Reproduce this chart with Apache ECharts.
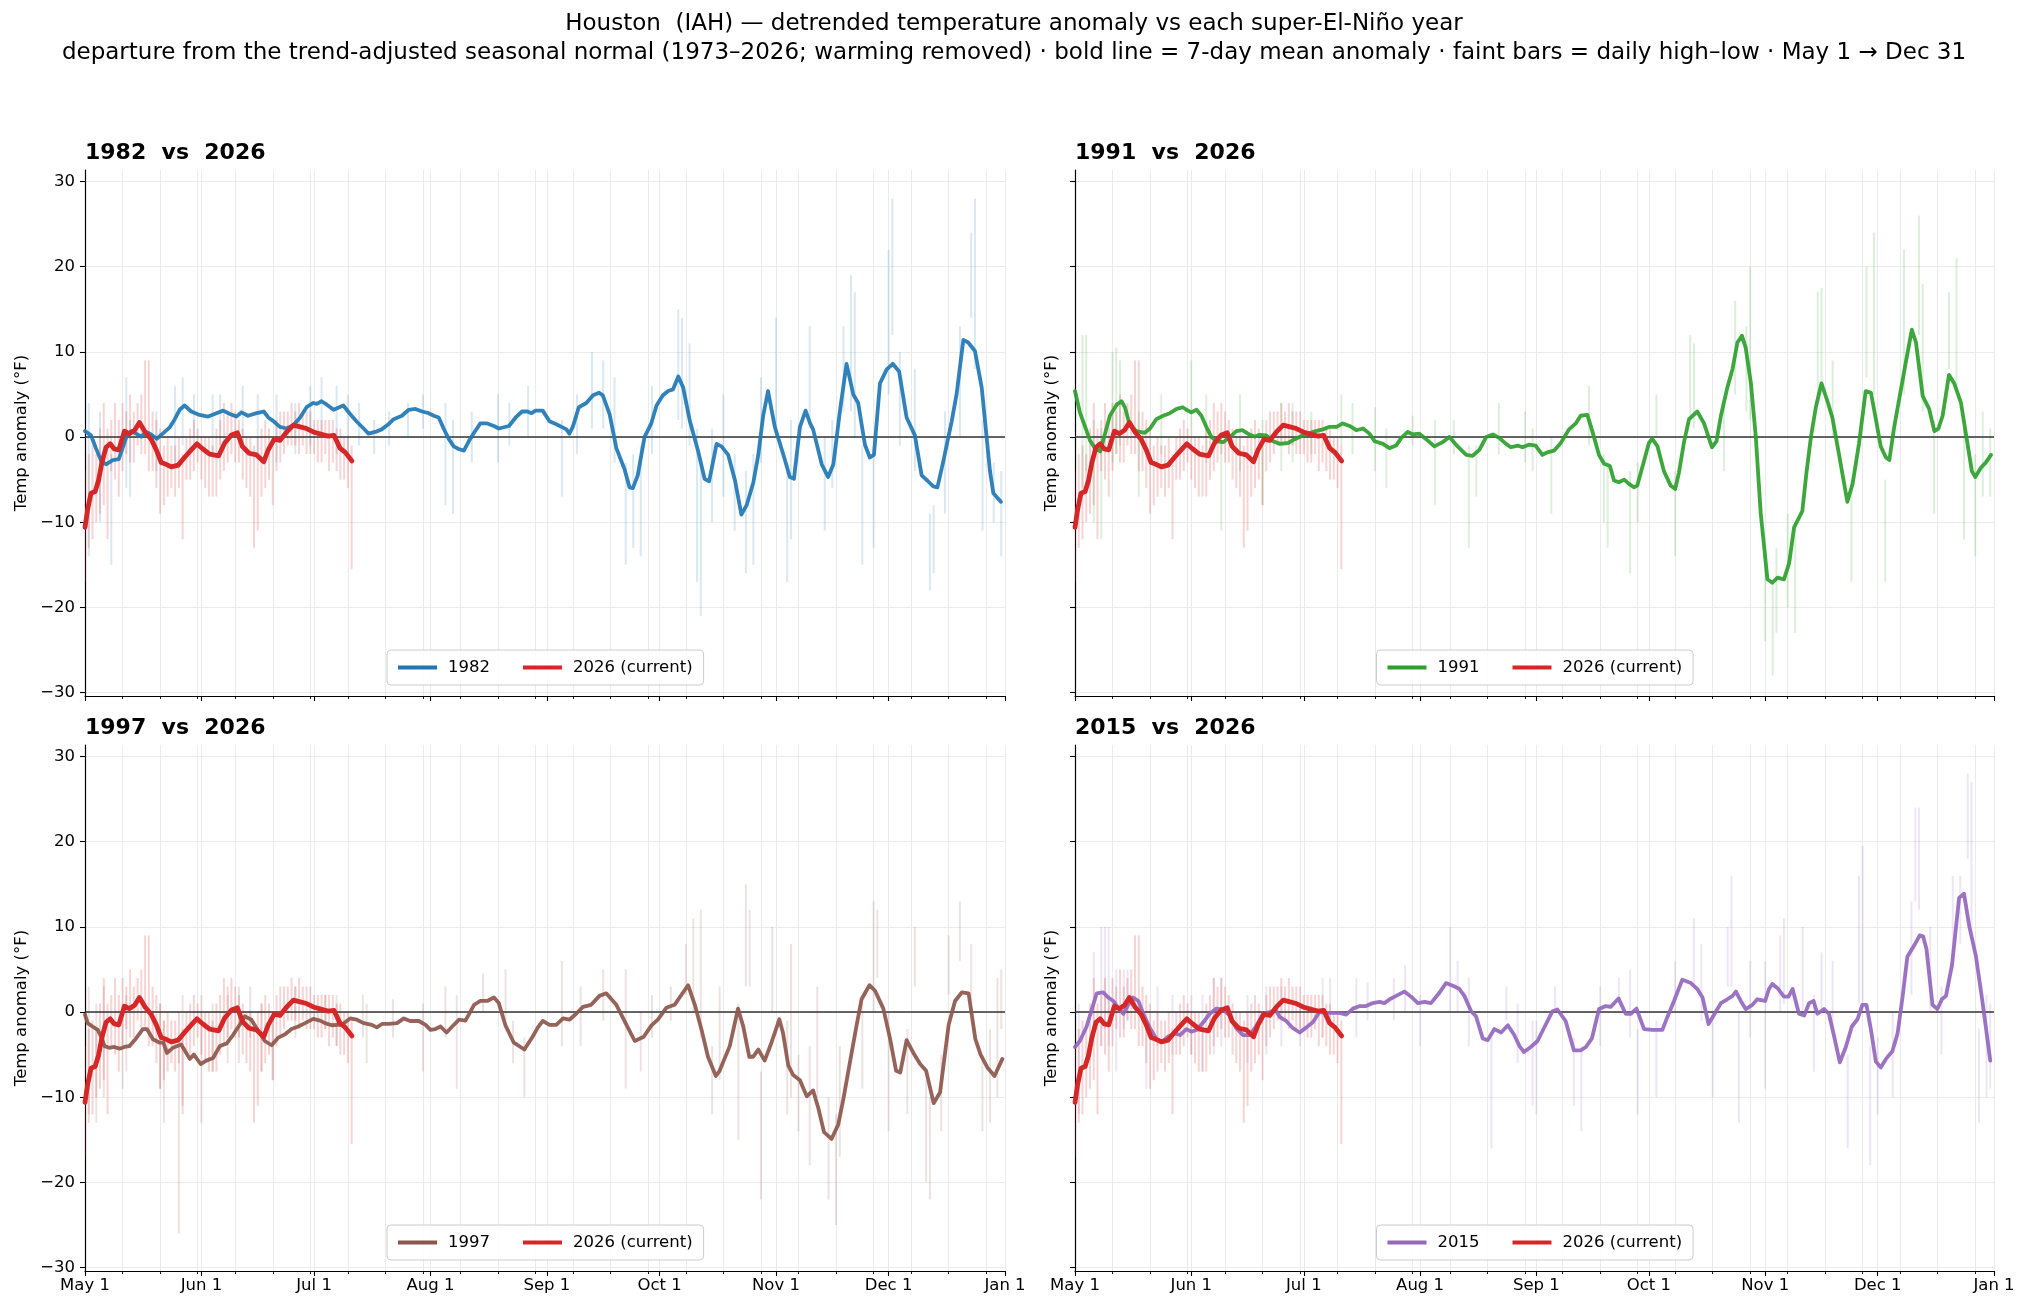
<!DOCTYPE html>
<html>
<head>
<meta charset="utf-8">
<script src="https://cdn.jsdelivr.net/npm/echarts@6/dist/echarts.min.js"></script>
<style>
  html, body { margin: 0; padding: 0; background: #fff; }
  #chart { width: 2028px; height: 1312px; }
</style>
</head>
<body>
<div id="chart"></div>
<script>
// x = days since May 1 (Jan 1 = 245)
const monthDays = [0, 31, 61, 92, 123, 153, 184, 214, 245];
const monthLabels = ['May 1', 'Jun 1', 'Jul 1', 'Aug 1', 'Sep 1', 'Oct 1', 'Nov 1', 'Dec 1', 'Jan 1'];
const minorDays = [10, 20, 30, 40, 50, 60, 70, 80, 90, 100, 110, 120, 130, 140, 150, 160, 170, 180, 190, 200, 210, 220, 230, 240];
const yTicks = [-30, -20, -10, 0, 10, 20, 30];
const zeroLine = [[0, 0], [245, 0]];

// 7-day mean anomaly (°F)
const line2026 = [[0,-10.6],[0.7,-8.5],[1.6,-6.6],[2.7,-6.4],[3.6,-5.1],[4.5,-3.0],[5.6,-1.2],[6.7,-0.8],[7.8,-1.4],[9,-1.5],[10.5,0.7],[11.8,0.4],[13.2,0.8],[14.5,1.7],[16,0.6],[17.6,-0.25],[19,-1.5],[20.3,-3.0],[21.6,-3.2],[23,-3.5],[24.8,-3.3],[26.5,-2.4],[28.3,-1.5],[29.8,-0.8],[31.4,-1.4],[33.2,-2.0],[35.6,-2.2],[37.2,-0.7],[39,0.25],[40.6,0.5],[41.9,-1.1],[43.7,-1.9],[45.7,-2.1],[47.6,-2.9],[48.8,-1.5],[50.4,-0.25],[51.9,-0.4],[53.7,0.6],[55.5,1.4],[57.3,1.2],[59,1.0],[60.8,0.6],[63.5,0.25],[64.8,0.1],[66.3,0.2],[67.9,-1.3],[69.3,-1.8],[71.1,-2.8]];

const line1982 = [[0,0.7],[1.6,0.2],[2.9,-1.3],[4.3,-2.8],[5.6,-3.2],[7.4,-2.7],[9,-2.6],[10,-1.3],[11,0],[12.3,0.7],[13.6,0.4],[15,0.05],[16.3,0.6],[17.6,0.3],[19.1,-0.2],[20.7,0.4],[22.5,1.1],[23.9,2.1],[25.2,3.2],[26.5,3.7],[28.3,3.0],[30.5,2.6],[32.8,2.4],[34.5,2.7],[36.8,3.1],[38.6,2.7],[40.3,2.4],[41.7,2.9],[43.4,2.5],[45.7,2.8],[47.6,3.0],[48.8,2.3],[50.1,1.9],[51.9,1.2],[53.7,1.0],[55.5,1.4],[57.3,2.3],[59,3.5],[60.8,4.0],[61.7,3.9],[63,4.2],[64.4,3.8],[66.2,3.2],[68.8,3.7],[70.6,2.7],[72.4,1.8],[74.2,1.0],[75.5,0.4],[77.3,0.6],[79,0.9],[80.8,1.5],[82.2,2.1],[84.4,2.5],[86.2,3.2],[88,3.3],[89.8,3.0],[91.5,2.8],[92.9,2.5],[94.2,2.3],[95.5,1.0],[96.9,-0.25],[98.2,-1.1],[99.5,-1.4],[100.9,-1.6],[102.2,-0.5],[103.6,0.5],[105.3,1.6],[107.1,1.6],[108.9,1.3],[110.2,1.0],[112.9,1.3],[114.7,2.3],[116.4,3.0],[117.8,3.0],[118.9,2.8],[120,3.1],[121.9,3.1],[123.7,1.85],[125.5,1.5],[127.3,1.1],[128.2,0.9],[129,0.4],[129.9,1.2],[131.5,3.5],[133.5,4.0],[135.3,4.9],[136.9,5.2],[137.9,4.9],[139.7,2.7],[141.5,-1.3],[143.7,-3.8],[145,-5.9],[145.9,-6.0],[147.2,-4.5],[149,0],[150.8,1.6],[152.2,3.7],[153.9,4.9],[155.3,5.4],[156.6,5.6],[158,7.1],[159.3,5.8],[161.1,1.85],[163.3,-1.7],[165,-4.9],[166.2,-5.2],[168.2,-0.8],[169.5,-1.1],[171.3,-2.1],[173.1,-5.1],[174.8,-9.1],[176.2,-8.0],[178,-5.3],[179.3,-2.1],[180.6,2.5],[181.9,5.4],[183.7,1.2],[186,-2.1],[187.7,-4.7],[188.8,-4.9],[190.4,1.2],[191.9,3.1],[193.1,1.6],[193.9,0.9],[196.2,-3.2],[197.9,-4.7],[199.3,-3.2],[201,2.9],[202.8,8.6],[204.6,5.0],[205.9,4.0],[207.7,-0.9],[209,-2.4],[210.1,-2.1],[211.7,6.3],[213.5,7.95],[215.1,8.6],[216.8,7.7],[218.8,2.3],[221,0.2],[222.8,-4.5],[224.3,-5.1],[225.9,-5.8],[227,-5.9],[228.6,-2.8],[230.8,1.85],[232.1,5.0],[233.9,11.4],[235.2,11.1],[237,10.1],[238.8,5.8],[240.1,0],[241,-4.0],[241.9,-6.6],[243.9,-7.6]];

const line1991 = [[0,5.4],[1.3,2.9],[2.7,1.2],[4,-0.4],[5.3,-1.3],[6.7,-1.7],[8,0.4],[9.3,2.5],[11.1,3.8],[12.4,4.2],[13.3,3.5],[14.6,1.4],[16.4,0.7],[18.6,0.5],[20,1.0],[21.7,2.1],[23.5,2.5],[25.3,2.8],[27.1,3.3],[28.7,3.5],[29.7,3.2],[31,2.9],[32.4,3.2],[33.7,2.5],[35,1.2],[36.4,0],[37.7,-0.5],[39.5,-0.6],[41.3,0],[43,0.7],[44.6,0.8],[46.1,0.4],[47.9,0.05],[49.2,0.25],[51,0.2],[52.8,-0.5],[54.6,-0.8],[56.8,-0.7],[58.6,-0.25],[60.8,0.2],[63.4,0.6],[66.1,0.9],[67.9,1.2],[69.7,1.2],[71.4,1.6],[73.2,1.3],[75,0.8],[76.8,1.0],[78.5,0.4],[79.9,-0.5],[82.1,-0.8],[83.8,-1.3],[85.6,-1.0],[87,-0.1],[88.7,0.6],[90.1,0.3],[91.8,0.4],[93.6,-0.25],[95.8,-1.1],[98,-0.6],[99.8,0],[102,-1.1],[104.3,-2.1],[106,-2.2],[107.8,-1.5],[109.6,0],[111.4,0.3],[113.1,-0.1],[114.9,-0.8],[116.2,-1.2],[118,-1.0],[119.3,-1.2],[121,-0.9],[122.8,-1.0],[124.6,-2.1],[125.9,-1.8],[127.7,-1.6],[129.5,-0.7],[131.7,0.9],[133.5,1.6],[134.8,2.5],[136.6,2.6],[138.1,0.4],[139.7,-2.1],[141,-3.1],[142.6,-3.4],[143.7,-5.1],[145,-5.3],[146.4,-5.0],[147.7,-5.5],[149,-5.9],[149.9,-5.7],[151.7,-2.8],[153,-0.7],[153.9,-0.2],[155.3,-1.1],[157,-4.0],[158.8,-5.7],[160,-6.1],[161,-4.2],[162.4,-0.5],[163.7,2.1],[165.9,3.0],[167.7,1.6],[169.8,-1.2],[171,-0.5],[172.2,2.5],[173.9,5.8],[175.3,8.0],[176.6,11.1],[177.8,11.9],[178.8,10.5],[180.2,6.3],[181.5,0],[182.8,-8.9],[184.6,-16.7],[185.9,-17.1],[187.3,-16.5],[189,-16.7],[190.4,-14.8],[191.7,-10.6],[193.9,-8.7],[195,-4.2],[196.2,0],[197.5,3.5],[199,6.3],[200.6,4.2],[201.9,2.3],[203.7,-2.1],[205.9,-7.6],[207.3,-5.5],[209,-0.8],[210.8,5.4],[212.2,5.2],[213.5,2.1],[214.8,-1.1],[216.2,-2.4],[217.1,-2.7],[218.4,1.2],[219.7,4.4],[221.5,8.8],[223.1,12.6],[224.2,11.1],[226,4.8],[227.7,3.3],[229.1,0.7],[230.2,1.0],[231.3,2.5],[233,7.3],[234.4,6.3],[236.2,4.0],[237.5,0.4],[239.1,-4.0],[240,-4.7],[241.5,-3.6],[242.8,-3.0],[244.2,-2.1]];

const line1997 = [[0,-0.3],[0.7,-1.3],[2,-1.7],[3.4,-2.1],[4.3,-2.9],[5.2,-4.0],[6.5,-4.2],[7.8,-4.1],[9.2,-4.3],[10.5,-4.1],[11.8,-4.0],[13.6,-3.1],[15.4,-2.0],[16.5,-2.0],[18.1,-3.2],[19.9,-3.6],[20.9,-3.6],[21.8,-4.8],[23.4,-4.2],[25.6,-3.8],[27.9,-5.5],[29,-5.0],[30.8,-6.1],[32.3,-5.7],[34.1,-5.4],[35.9,-4.0],[37.7,-3.7],[39.4,-2.7],[41.2,-1.5],[42.6,-0.5],[44.3,-0.9],[46.1,-2.2],[47.9,-3.4],[49.7,-3.9],[51.5,-3.0],[53.3,-2.6],[55,-2.0],[56.8,-1.7],[58.6,-1.3],[60.8,-0.8],[62.6,-1.0],[63.9,-1.3],[65.7,-1.55],[67.1,-1.5],[68.4,-1.5],[70.6,-0.75],[72.4,-0.9],[74.2,-1.3],[76.4,-1.5],[77.7,-1.8],[79.1,-1.4],[80.9,-1.4],[83.1,-1.3],[84.9,-0.75],[86.6,-1.05],[88.9,-1.05],[90.7,-1.5],[92,-2.1],[93.3,-2.0],[94.7,-1.7],[96.3,-2.4],[97.8,-1.7],[99.6,-0.9],[101.3,-1.0],[102.2,-0.3],[103.6,0.85],[105.3,1.3],[107.1,1.3],[108.9,1.7],[110.2,1.05],[112,-1.6],[114.2,-3.6],[117,-4.4],[119.2,-2.9],[120.6,-1.8],[121.9,-1.05],[123.7,-1.5],[125.5,-1.5],[127.3,-0.75],[129,-0.9],[130.8,-0.2],[132.6,0.6],[134.8,0.85],[137,1.9],[138.8,2.2],[141.5,0.85],[144.2,-1.5],[146.4,-3.4],[148.8,-2.9],[150.8,-1.6],[152.6,-0.85],[154.8,0.5],[157,0.85],[158.8,2.0],[160.6,3.15],[162.4,0.85],[164.2,-2.1],[165.9,-5.25],[168,-7.5],[169,-6.9],[170.1,-5.7],[171.7,-4.0],[173.9,0.4],[175.3,-1.7],[176.9,-5.25],[177.9,-5.25],[179.3,-4.4],[181,-5.7],[182.8,-3.6],[184.9,-0.85],[185.9,-2.5],[187.3,-6.3],[188.6,-7.4],[190.4,-8.0],[192.2,-9.9],[193.9,-9.2],[195.3,-11.3],[196.8,-14.1],[198.8,-14.9],[200.6,-13.2],[202,-10.1],[203.7,-5.9],[205.5,-1.5],[206.8,1.5],[208.9,3.15],[210.4,2.5],[212.6,0.4],[214.4,-3.15],[216,-6.9],[217.1,-7.1],[218.8,-3.3],[220.6,-4.8],[222.4,-6.1],[224,-6.9],[226,-10.7],[227.7,-9.45],[230,-1.5],[231.7,1.3],[233.5,2.3],[235.3,2.2],[237.1,-3.15],[238.5,-5.0],[240.3,-6.5],[242.2,-7.5],[244.3,-5.5]];

const line2015 = [[0,-4.1],[1.3,-3.4],[3.1,-1.7],[4.4,0.2],[5.8,2.2],[7.5,2.3],[8.9,1.7],[10.2,1.3],[11.5,0.5],[12.9,-0.2],[14.2,0.85],[15.5,1.7],[16.9,1.3],[18.2,-0.2],[20,-1.9],[21.7,-3.15],[23.1,-3.5],[24.8,-2.9],[26.6,-2.5],[28,-2.7],[29.7,-2.0],[31,-2.3],[32.4,-2.1],[34.2,-1.2],[35.9,-0.2],[37.7,0.4],[39.5,0.3],[41.3,-0.4],[43,-1.9],[44.8,-2.7],[46.6,-2.7],[48.4,-1.6],[50.1,-0.2],[51.9,0],[53.7,0.1],[54.6,-0.6],[56.3,-1.05],[58.1,-1.9],[59.9,-2.4],[61.7,-1.8],[63.4,-1.2],[65.2,0],[67,-0.1],[68.8,-0.1],[70.5,-0.1],[72.3,-0.3],[74.1,0.4],[75.9,0.7],[77.6,0.7],[79.4,1.05],[81.2,1.2],[82.5,1.05],[83.9,1.5],[85.6,1.9],[87.8,2.4],[89.6,1.8],[91.4,1.05],[93.2,1.2],[94.9,1.05],[97.2,2.3],[98.9,3.4],[101.2,3.0],[102.5,2.7],[103.8,1.9],[105.6,0.1],[106.9,-0.5],[108.7,-3.1],[110,-3.3],[111.8,-2.0],[113.6,-2.4],[115.4,-1.55],[117.1,-2.7],[118.5,-4.0],[119.7,-4.7],[121.5,-4.1],[123.3,-3.4],[125,-1.9],[127.3,0.1],[128.6,0.3],[130.8,-1.05],[133,-4.5],[134.8,-4.5],[136.2,-4.1],[137.8,-3.1],[139.7,0.35],[141.5,0.7],[142.8,0.6],[144.9,1.6],[146.8,-0.2],[148.2,-0.2],[149.7,0.4],[151.7,-2.0],[153.9,-2.1],[156.6,-2.1],[157.9,-0.6],[159.7,1.3],[161.9,3.8],[164.2,3.4],[165.9,2.7],[167.3,1.7],[168.9,-1.4],[170.8,0],[172.2,1.05],[173.9,1.5],[175.3,1.9],[176.2,2.4],[177.5,1.3],[178.8,0.35],[180.6,0.85],[181.9,1.5],[184,1.3],[185,2.7],[185.9,3.3],[187.3,2.8],[189,1.8],[190.2,1.8],[191.3,2.7],[193,-0.2],[194.4,-0.4],[195.7,1.05],[196.9,1.3],[197.9,-0.2],[199.7,0.35],[201,-0.2],[202.4,-2.9],[203.9,-5.9],[205.5,-4.1],[207.1,-1.7],[208.6,-0.85],[209.9,0.85],[211,0.85],[212.2,-2.1],[213.5,-5.8],[214.8,-6.5],[216.2,-5.5],[217.9,-4.6],[219.3,-2.5],[220.6,1.7],[221.9,6.5],[223.7,7.8],[225.2,9.0],[226.1,8.9],[227,7.4],[228.6,0.85],[229.9,0.35],[231.1,1.5],[232.2,1.9],[233.8,5.5],[235.7,13.4],[237,13.9],[238.4,10.1],[240.2,6.5],[241.9,1.3],[244,-5.7]];

// daily high-low anomaly ranges: [day, low, high]
const bars2026 = [[0,-17,-4],[1,-13,-2],[2,-12,-1],[3,-10,-2],[4,-9,1],[5,-8,4],[6,-12,1],[7,-4,2],[8,-5,4],[9,-7,2],[10,-4,4],[11,-2,3],[12,-3,5],[13,-3,3],[14,-1,4],[15,-2,5],[16,-2,9],[17,-4,9],[18,-4,3],[19,-6,2],[20,-9,1],[21,-8,-1],[22,-7,0],[23,-6,-1],[24,-7,-1],[25,-6,0],[26,-12,-2],[27,-5,0],[28,-5,1],[29,-4,2],[30,-3,1],[31,-5,0],[32,-6,0],[33,-7,0],[34,-7,-1],[35,-7,1],[36,-5,2],[37,-4,4],[38,-3,3],[39,-2,4],[40,-3,3],[41,-3,2],[42,-5,1],[43,-6,0],[44,-7,0],[45,-13,-1],[46,-11,0],[47,-7,1],[48,-6,2],[49,-5,1],[50,-8,0],[51,-4,2],[52,-3,3],[53,-2,3],[54,-1,3],[55,-1,4],[56,-1,3],[57,-2,4],[58,-1,3],[59,-2,3],[60,-2,3],[61,-2,2],[62,-3,2],[63,-3,2],[64,-2,2],[65,-4,2],[66,-3,2],[67,-4,1],[68,-5,1],[69,-5,0],[70,-6,0],[71,-15.5,-1]];

const bars1982 = [[1,-14,4],[4,-10,3],[7,-15,-2],[11,-6,7],[12,-7,2],[19,-4,3],[24,-3,6],[26,-1,7],[29,0,5],[34,-2,5],[36,-1,5],[42,-1,6],[46,-2,5],[51,-3,5],[56,-2,4],[60,-1,6],[63,0,7],[67,-2,6],[70,-2,5],[73,-1,4],[77,-2,2],[81,-1,3],[86,0,4],[90,1,5],[96,-8,4],[98,-9,2],[103,-3,3],[110,-3,5],[113,-1,4],[118,0,6],[127,-7,2],[131,-2,5],[135,1,10],[138,1,9],[141,-3,7],[144,-15,-3],[146,-13,-2],[148,-14,-1],[151,-2,6],[158,2,15],[159,1,14],[161,-1,11],[163,-17,1],[164,-21,-3],[167,-10,1],[170,-7,5],[173,-11,-2],[176,-16,-4],[178,-15,-2],[180,-3,7],[184,0,14],[187,-17,-3],[188,-12,2],[193,1,13],[197,-11,0],[199,-6,2],[202,3,13],[204,3,19],[205,0,17],[207,-15,-1],[210,-13,0],[214,5,22],[215,12,28],[217,-1,10],[221,-4,8],[225,-18,-9],[226,-16,-8],[229,-9,3],[233,0,13],[236,14,24],[237,8,28],[239,-11,2],[242,-10,-3],[244,-14,-4]];

const bars1991 = [[2,-6,12],[3,-4,12],[5,-10,2],[7,-12,1],[10,-3,10],[11,-2,10.5],[12,-1,9],[17,-7,3],[23,-2,5],[31,0,9],[35,-3,5],[39,-11,0],[44,-4,5],[50,-8,2],[55,-4,4],[58,-3,4],[63,-2,3],[71,-1,5],[74,-2,4],[80,-4,3.5],[83,-6,1],[90,-1,2.5],[96,-8,2],[101,-2,2],[105,-13,-1],[107,-7,-1],[113,-2,4],[120,-3,3],[122,-4,1],[127,-9,0],[137,-1,6],[141,-10,-2],[142,-13,-3],[148,-16,-4],[150,-10,-3],[155,0,5],[160,-14,-4],[164,2,12],[165,1,11],[173,-4,4],[176,5,16],[179,3,13],[180,2,20],[184,-24,-13],[186,-28,-17],[187,-23,-13],[190,-20,-9],[192,-23,-10],[198,4,17],[199,5,17.5],[202,0,9],[207,-17,-5],[211,7,20],[213,5,24],[216,-17,-5],[221,5,22],[225,12,26],[226,3,18],[229,-9,2],[233,8,17],[235,6,21],[237,-12,1],[240,-14,-2],[242,-7,3],[244,-7,1]];

const bars1997 = [[1,-12,3],[3,-13,1],[5,-10,3],[10,-9,1],[11,-7,2],[20,-9,1],[21,-13,-1],[25,-26,-4],[26,-11,2],[31,-13,2],[34,-7,1],[38,-6,2],[41,-6,3],[44,-3,3],[47,-7,1],[50,-8,0],[56,-3,3],[64,-2,2],[67,-4,2],[74,-3,2],[75,-6,1],[82,-3,1.5],[90,-7,1],[96,-3,3],[99,-9,2],[106,0,4.5],[112,-1,5],[114,-6,-1],[117,-10,-3],[127,-4,6],[132,-4,3],[138,-1,5],[144,-9,5],[148,-7,0],[151,-3,2],[156,-1,3],[160,2,8],[162,0,11],[164,-3,12],[167,-12,-4],[169,-8,3],[174,-15,1],[176,3,15],[177,3,12],[180,-22,-7],[183,0,10],[187,-12,-1],[188,-10,8],[190,-14,-5],[193,-18,-4],[195,-10,3],[198,-22,-10],[200,-25,-12],[201,-17,-4],[207,-9,1],[210,0,13],[211,4,12],[214,-14,0],[219,-12,-2],[221,3,10],[224,-20,-8],[225,-22,-10],[228,-14,-5],[230,2,9],[233,6,13],[236,0,8],[239,-14,-5],[241,-13,-2],[243,-10,4],[244,-2,5]];

const bars2015 = [[1,-12,1],[5,-3,7],[7,-4,10],[8,-2,10],[9,-4,10],[11,-7,5],[13,-2,5],[14,-1,5],[19,-9,-1],[22,-4,3],[26,-5,2],[31,-5,2],[34,-7,2],[37,-5,4],[39,-4,4],[46,-6,2],[51,-5,3],[55,-4,3],[60,-4,1],[66,-3,4],[68,-1,4],[75,-3,4],[78,-1,3.5],[85,-1,4],[88,0,5.5],[92,-4,2],[100,0,10],[102,0,6],[105,-4,4],[111,-16,-3],[115,-1,3],[118,-6,1],[122,-11,-1],[123,-12,-1],[128,0,3],[133,-11,-3],[135,-14,-4],[140,-4,3],[145,1,4],[148,-3,5],[150,-12,-2],[155,-10,-1],[160,0,6],[165,3,11],[167,-1,8],[170,-10,0],[174,3,10],[175,3,16],[177,-13,0],[180,-3,6],[184,-9,6],[188,0,9],[189,1,11],[194,0,10],[197,-7,2],[199,0,7],[202,-2,6],[206,-16,-5],[209,1,16],[210,0,19.5],[212,-18,-4],[214,-12,-3],[218,-10,0],[223,2,13],[224,13,24],[225,12,24],[228,0,10],[231,-5,3],[234,5,16],[236,8,16],[238,18,28],[239,10,27],[241,-13,-2],[243,-10,2],[244,-9,1]];

const FONT = 'DejaVu Sans';
const RED = '#d62728';
const CUR = '2026 (current)';

const panels = [
  { year: '1982', color: '#1f77b4', line: line1982, bars: bars1982 },
  { year: '1991', color: '#2ca02c', line: line1991, bars: bars1991 },
  { year: '1997', color: '#8c564b', line: line1997, bars: bars1997 },
  { year: '2015', color: '#9467bd', line: line2015, bars: bars2015 }
];

const grids = [
  { left: 85, top: 170, width: 920, height: 526 },
  { left: 1075, top: 170, width: 919, height: 526 },
  { left: 85, top: 745, width: 920, height: 526 },
  { left: 1075, top: 745, width: 919, height: 526 }
];

const axisColor = '#000';
const gridColor = '#ebebeb';

function rangeBars(color, alpha) {
  return function (params, api) {
    const top = api.coord([api.value(0), api.value(2)]);
    const bot = api.coord([api.value(0), api.value(1)]);
    return {
      type: 'rect',
      shape: { x: top[0] - 1, y: top[1], width: 2, height: bot[1] - top[1] },
      style: { fill: color, opacity: alpha }
    };
  };
}

const fmtMinus = v => (v < 0 ? '\u2212' + Math.abs(v) : String(v));

const option = {
  animation: false,
  backgroundColor: '#fff',
  textStyle: { fontFamily: FONT },
  title: [
    {
      text: 'Houston  (IAH) \u2014 detrended temperature anomaly vs each super-El-Ni\u00f1o year',
      left: 'center', top: 13, padding: 0,
      textStyle: { fontSize: 23, fontWeight: 'normal', color: '#000', fontFamily: FONT }
    },
    {
      text: 'departure from the trend-adjusted seasonal normal (1973\u20132026; warming removed) \u00b7 bold line = 7-day mean anomaly \u00b7 faint bars = daily high\u2013low \u00b7 May 1 \u2192 Dec 31',
      left: 'center', top: 42, padding: 0,
      textStyle: { fontSize: 23, fontWeight: 'normal', color: '#000', fontFamily: FONT }
    }
  ],
  legend: [],
  grid: grids,
  xAxis: [],
  yAxis: [],
  series: []
};

panels.forEach((p, i) => {
  const bottomRow = i >= 2;
  const leftCol = i % 2 === 0;
  const g = grids[i];

  option.title.push({
    text: p.year + '  vs  2026',
    left: g.left, top: g.top - 28, padding: 0,
    textStyle: { fontSize: 22, fontWeight: 'bold', color: '#000', fontFamily: FONT }
  });

  option.legend.push({
    data: [p.year, CUR],
    left: g.left + g.width / 2 - 158,
    top: g.top + g.height - 46,
    orient: 'horizontal',
    icon: 'rect',
    itemWidth: 39, itemHeight: 4, itemGap: 33,
    padding: [9, 11, 9, 11],
    borderColor: '#cccccc', borderWidth: 1, borderRadius: 4,
    backgroundColor: 'rgba(255,255,255,0.85)',
    textStyle: { fontSize: 16.5, color: '#000', fontFamily: FONT, padding: [0, 0, 0, 6] },
    selectedMode: false
  });

  // major (month) ticks + labels
  option.xAxis.push({
    type: 'value', gridIndex: i, min: 0, max: 245, position: 'bottom',
    axisLine: { show: true, onZero: false, lineStyle: { color: axisColor, width: 1.2 } },
    axisTick: { show: true, customValues: monthDays, length: 5, lineStyle: { color: axisColor, width: 1.1 } },
    axisLabel: {
      show: bottomRow, customValues: monthDays, margin: 6,
      formatter: v => monthLabels[monthDays.indexOf(v)],
      fontSize: 16.5, color: '#000', fontFamily: FONT
    },
    splitLine: { show: true, lineStyle: { color: gridColor, width: 1 } }
  });
  // minor (10-day) ticks
  option.xAxis.push({
    type: 'value', gridIndex: i, min: 0, max: 245, position: 'bottom',
    axisLine: { show: false, onZero: false },
    axisTick: { show: true, customValues: minorDays, length: 3, lineStyle: { color: axisColor, width: 0.9 } },
    axisLabel: { show: false, customValues: minorDays },
    splitLine: { show: true, lineStyle: { color: gridColor, width: 1 } }
  });

  option.yAxis.push({
    type: 'value', gridIndex: i, min: -30.4, max: 31.35,
    name: 'Temp anomaly (\u00b0F)', nameLocation: 'middle', nameRotate: 90,
    nameGap: leftCol ? 55 : 15,
    nameTextStyle: { fontSize: 16.5, color: '#000', fontFamily: FONT },
    axisLine: { show: true, onZero: false, lineStyle: { color: axisColor, width: 1.2 } },
    axisTick: { show: true, customValues: yTicks, length: 5, lineStyle: { color: axisColor, width: 1.1 } },
    axisLabel: {
      show: leftCol, customValues: yTicks, margin: 10, formatter: fmtMinus,
      fontSize: 16.5, color: '#000', fontFamily: FONT
    },
    splitLine: { show: true, lineStyle: { color: gridColor, width: 1 } }
  });

  const xi = 2 * i;
  option.series.push(
    {
      type: 'custom', name: p.year + ' range', xAxisIndex: xi, yAxisIndex: i,
      renderItem: rangeBars(p.color, 0.17), data: p.bars, encode: { x: 0, y: [1, 2] },
      silent: true, z: 1, clip: true
    },
    {
      type: 'custom', name: '2026 range', xAxisIndex: xi, yAxisIndex: i,
      renderItem: rangeBars(RED, 0.2), data: bars2026, encode: { x: 0, y: [1, 2] },
      silent: true, z: 1, clip: true
    },
    {
      type: 'line', name: 'zero', xAxisIndex: xi, yAxisIndex: i, data: zeroLine,
      symbol: 'none', silent: true, z: 2,
      lineStyle: { color: '#333', width: 1.6 }
    },
    {
      type: 'line', name: p.year, xAxisIndex: xi, yAxisIndex: i, data: p.line,
      symbol: 'none', z: 3,
      itemStyle: { color: p.color },
      lineStyle: { color: p.color, width: 3.8, opacity: 0.92, join: 'round', cap: 'round' }
    },
    {
      type: 'line', name: CUR, xAxisIndex: xi, yAxisIndex: i, data: line2026,
      symbol: 'none', z: 4,
      itemStyle: { color: RED },
      lineStyle: { color: RED, width: 4.8, join: 'round', cap: 'round' }
    }
  );
});

const chart = echarts.init(document.getElementById('chart'), null, { renderer: 'canvas' });
chart.setOption(option);
</script>
</body>
</html>
